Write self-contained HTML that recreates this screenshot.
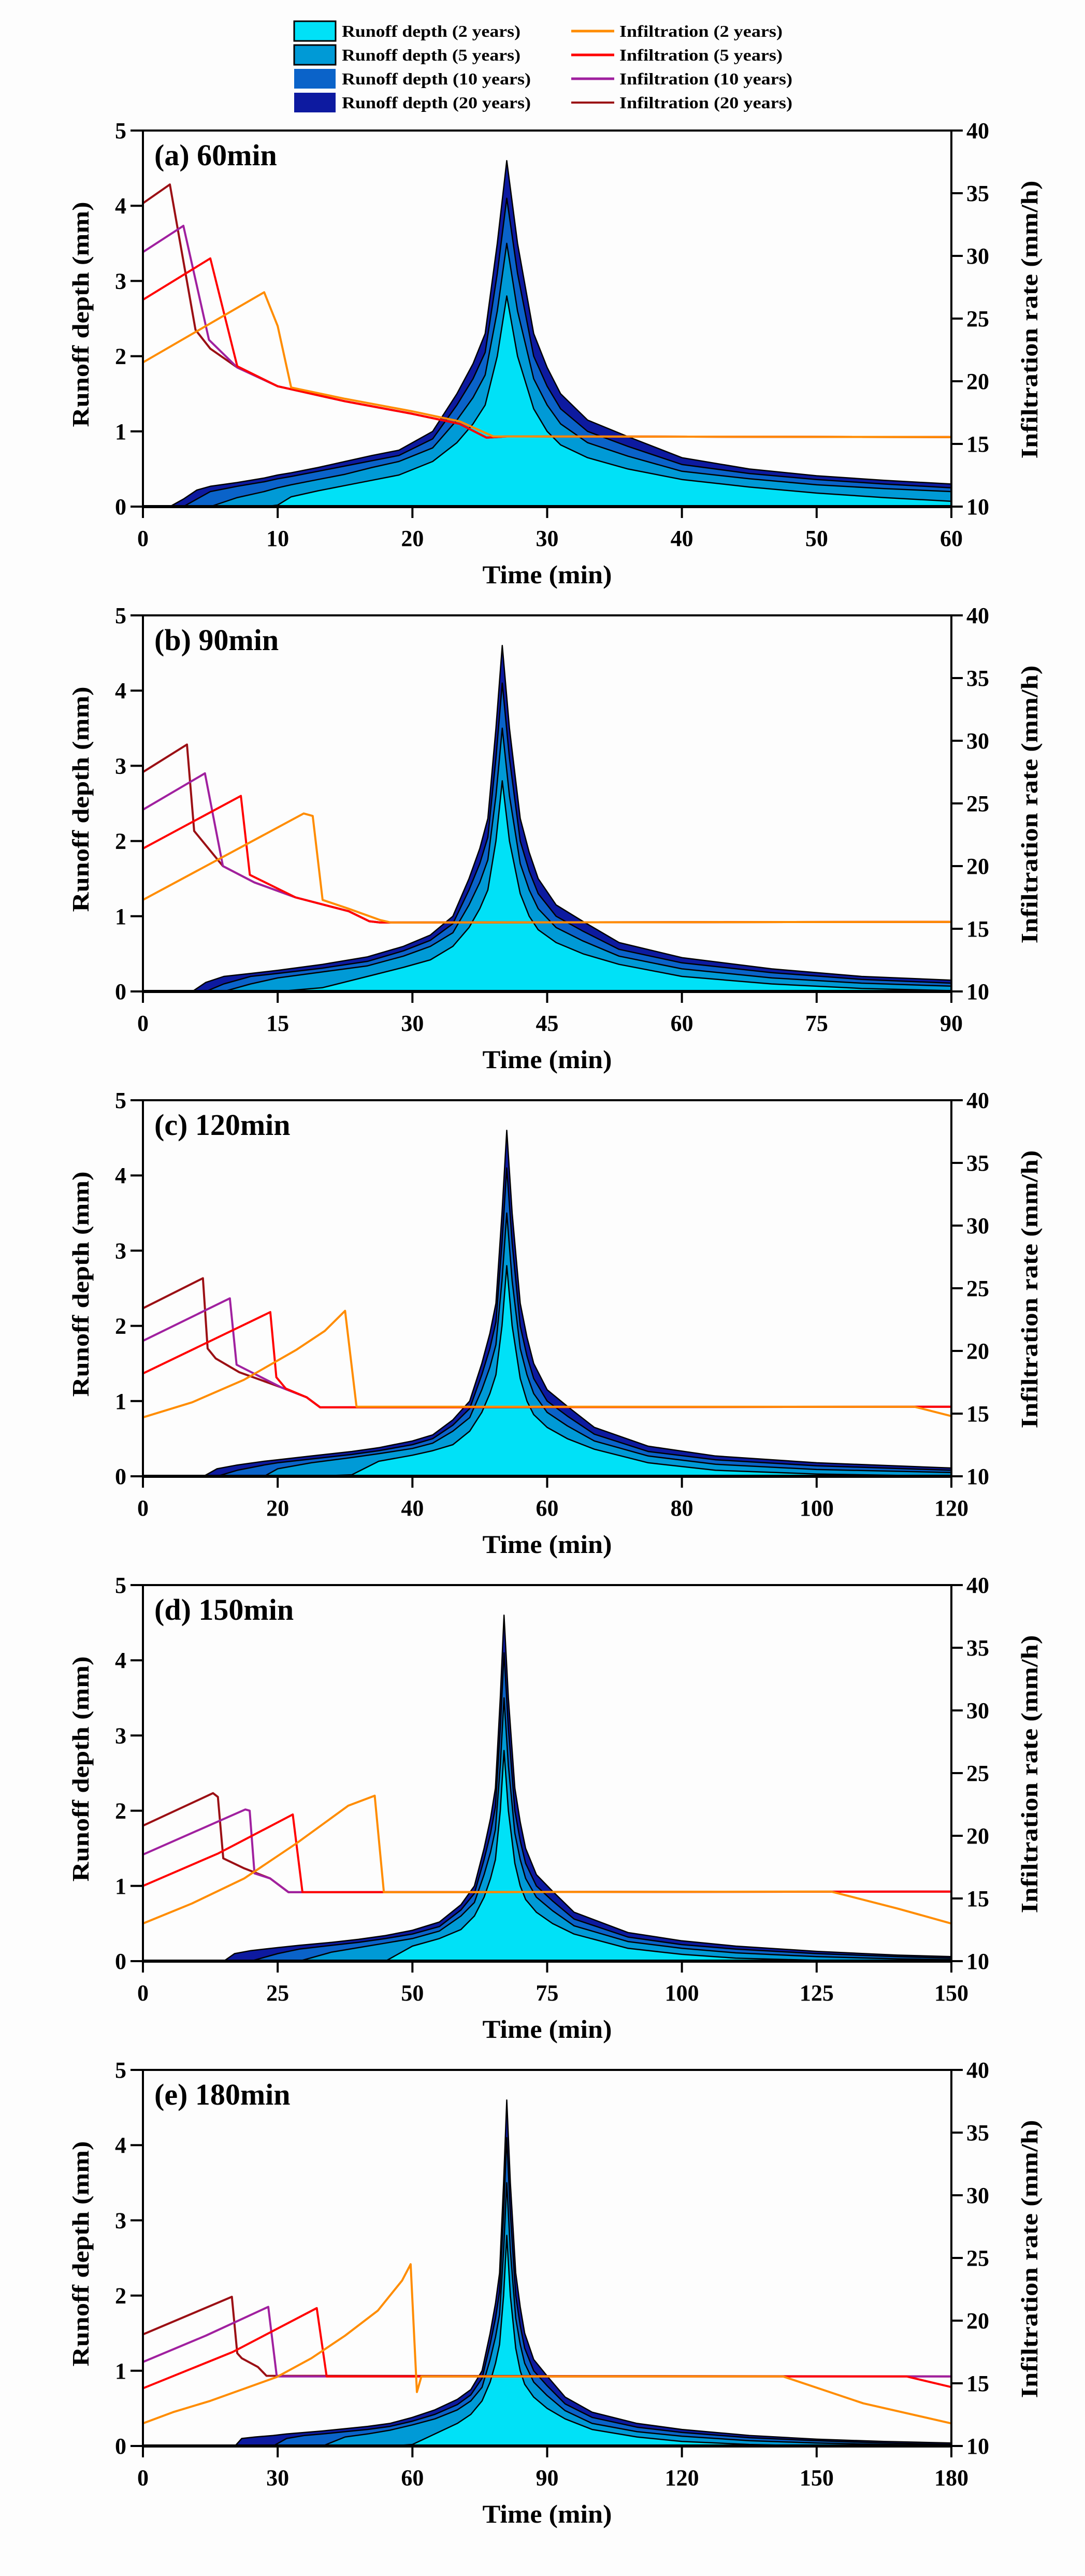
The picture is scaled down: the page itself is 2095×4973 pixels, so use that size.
<!DOCTYPE html>
<html><head><meta charset="utf-8">
<style>
html,body{margin:0;padding:0;background:#fdfdfd;}
svg{display:block;font-family:"Liberation Serif","Times New Roman",serif;}
</style></head>
<body>
<svg id="chart" width="2095" height="4973" viewBox="0 0 2095 4973" xmlns="http://www.w3.org/2000/svg">
<rect x="0" y="0" width="2095" height="4973" fill="#fdfdfd"/>
<g id="legend">
  <g>
    <rect x="568" y="41" width="80" height="38" fill="#00e1f7" stroke="#000" stroke-width="3"/>
    <text x="660" y="71" font-size="32" font-weight="bold" textLength="345" lengthAdjust="spacingAndGlyphs">Runoff depth (2 years)</text>
  </g>
  <g>
    <rect x="568" y="87" width="80" height="38" fill="#009ad6" stroke="#000" stroke-width="3"/>
    <text x="660" y="117" font-size="32" font-weight="bold" textLength="345" lengthAdjust="spacingAndGlyphs">Runoff depth (5 years)</text>
  </g>
  <g>
    <rect x="568" y="133" width="80" height="38" fill="#0a63c9"/>
    <text x="660" y="163" font-size="32" font-weight="bold" textLength="365" lengthAdjust="spacingAndGlyphs">Runoff depth (10 years)</text>
  </g>
  <g>
    <rect x="568" y="179" width="80" height="38" fill="#0d1aa0"/>
    <text x="660" y="209" font-size="32" font-weight="bold" textLength="365" lengthAdjust="spacingAndGlyphs">Runoff depth (20 years)</text>
  </g>
  <g>
    <line x1="1103" y1="60" x2="1186" y2="60" stroke="#ff8c00" stroke-width="5"/>
    <text x="1196" y="71" font-size="32" font-weight="bold" textLength="315" lengthAdjust="spacingAndGlyphs">Infiltration (2 years)</text>
  </g>
  <g>
    <line x1="1103" y1="106" x2="1186" y2="106" stroke="#ff0000" stroke-width="5"/>
    <text x="1196" y="117" font-size="32" font-weight="bold" textLength="315" lengthAdjust="spacingAndGlyphs">Infiltration (5 years)</text>
  </g>
  <g>
    <line x1="1103" y1="152" x2="1186" y2="152" stroke="#a0209f" stroke-width="5"/>
    <text x="1196" y="163" font-size="32" font-weight="bold" textLength="334" lengthAdjust="spacingAndGlyphs">Infiltration (10 years)</text>
  </g>
  <g>
    <line x1="1103" y1="198" x2="1186" y2="198" stroke="#9b0f14" stroke-width="4"/>
    <text x="1196" y="209" font-size="32" font-weight="bold" textLength="334" lengthAdjust="spacingAndGlyphs">Infiltration (20 years)</text>
  </g>
</g>
</svg>
<script>
// ---------- Panel (a) 60 min ----------
const aTime = [0,2,3,4,5,7,9,10,11,13,15,17,19,21.5,23.3,24.5,25.4,26.3,27,27.8,29,30,31,33,36,40,45,50,55,60];
const aRunoff20 = [0,0,.1,.22,.27,.32,.38,.42,.45,.52,.6,.68,.75,1.0,1.5,1.9,2.3,3.5,4.6,3.5,2.3,1.85,1.5,1.15,.93,.65,.5,.41,.35,.3];
const aRunoff10 = [0,0,0,.1,.2,.27,.33,.37,.4,.47,.54,.61,.68,.9,1.35,1.7,2.05,3.1,4.1,3.1,2.0,1.6,1.3,1.0,.8,.56,.44,.36,.3,.25];
const aRunoff5 = [0,0,0,0,0,.12,.2,.25,.29,.36,.43,.52,.6,.78,1.15,1.45,1.75,2.6,3.5,2.6,1.7,1.35,1.1,.85,.67,.47,.37,.29,.24,.2];
const aRunoff2 = [0,0,0,0,0,0,0,.02,.13,.21,.28,.35,.42,.6,.85,1.1,1.35,2.0,2.8,2.0,1.3,1.0,.82,.65,.5,.36,.26,.18,.12,.07];
const aInf20T = [0,2,3.9,5,7,10,15,20,23.5,25.5,27,60];
const aInf20V = [34.2,35.7,24.1,22.6,21.1,19.6,18.4,17.4,16.6,15.5,15.6,15.55];
const aInf10T = [0,3,4.9,7,10,15,20,23.5,25.5,27,60];
const aInf10V = [30.3,32.4,23.3,21.1,19.6,18.4,17.4,16.6,15.5,15.6,15.55];
const aInf5T = [0,5,7,10,15,20,23.5,25.5,27,60];
const aInf5V = [26.5,29.8,21.2,19.6,18.4,17.4,16.6,15.5,15.6,15.55];
const aInf2T = [0,9,10,11,15,20,23.5,26,60];
const aInf2V = [21.5,27.1,24.4,19.5,18.6,17.6,16.8,15.6,15.55];

// ---------- Panel (b) 90 min ----------
const bTime = [0,5.5,7,9,12,15,20,25,29,32,34.5,36.3,37.5,38.4,39.3,40,40.8,42,43,44,46,49,53,60,70,80,90];
const bRunoff20 = [0,0,.12,.2,.24,.28,.36,.46,.6,.75,1.0,1.5,1.9,2.3,3.5,4.6,3.5,2.3,1.85,1.5,1.15,.93,.65,.45,.3,.2,.15];
const bRunoff10 = [0,0,0,.1,.2,.24,.31,.4,.54,.68,.9,1.35,1.7,2.05,3.1,4.1,3.1,2.0,1.6,1.3,1.0,.8,.56,.38,.25,.16,.11];
const bRunoff5 = [0,0,0,0,.1,.18,.26,.34,.47,.6,.78,1.15,1.45,1.75,2.6,3.5,2.6,1.7,1.35,1.1,.85,.67,.47,.3,.18,.11,.07];
const bRunoff2 = [0,0,0,0,0,0,.05,.2,.32,.42,.6,.85,1.1,1.35,2.0,2.8,2.0,1.3,1.0,.82,.65,.5,.36,.2,.1,.04,.01];
const bInf20T = [0,4.9,5.7,8.9,12.4,17,22.9,25.2,26.4,90];
const bInf20V = [27.5,29.7,22.8,20.0,18.7,17.5,16.4,15.6,15.5,15.55];
const bInf10T = [0,6.9,8.9,12.4,17,22.9,25.2,26.4,90];
const bInf10V = [24.5,27.4,20.0,18.7,17.5,16.4,15.6,15.5,15.55];
const bInf5T = [0,10.9,11.9,17,22.9,25.2,26.4,90];
const bInf5V = [21.4,25.6,19.3,17.5,16.4,15.6,15.5,15.55];
const bInf2T = [0,17.9,18.9,20,22.9,26.4,27.6,90];
const bInf2V = [17.3,24.2,24.0,17.3,16.6,15.7,15.5,15.55];

// ---------- Panel (c) 120 min ----------
const cTime = [0,9,11,14,18,20,25,31,35,40,43,46,48.5,50.3,51.5,52.4,53.3,54,54.8,56,57,58,60,63,67,75,85,100,120];
const cRunoff20 = [0,0,.1,.15,.2,.22,.27,.33,.38,.47,.55,.75,1.0,1.5,1.9,2.3,3.5,4.6,3.5,2.3,1.85,1.5,1.15,.93,.65,.4,.27,.18,.11];
const cRunoff10 = [0,0,0,.08,.15,.18,.23,.29,.34,.42,.5,.68,.9,1.35,1.7,2.05,3.1,4.1,3.1,2.0,1.6,1.3,1.0,.8,.56,.33,.22,.14,.08];
const cRunoff5 = [0,0,0,0,0,.1,.18,.25,.3,.37,.44,.6,.78,1.15,1.45,1.75,2.6,3.5,2.6,1.7,1.35,1.1,.85,.67,.47,.27,.16,.09,.05];
const cRunoff2 = [0,0,0,0,0,0,0,.02,.2,.28,.34,.42,.6,.85,1.1,1.35,2.0,2.8,2.0,1.3,1.0,.82,.65,.5,.36,.18,.08,.03,0];
const cInf20T = [0,8.9,9.6,10.8,14.3,20.5,24.3,26.3,120];
const cInf20V = [23.4,25.8,20.2,19.4,18.3,17.1,16.3,15.5,15.55];
const cInf10T = [0,12.9,13.9,20.5,24.3,26.3,120];
const cInf10V = [20.8,24.2,18.9,17.1,16.3,15.5,15.55];
const cInf5T = [0,18.9,19.8,21.2,24.3,26.3,120];
const cInf5V = [18.2,23.1,17.9,17.0,16.3,15.5,15.55];
const cInf2T = [0,7.3,15,22.8,27,30,31.7,114.5,120];
const cInf2V = [14.7,15.9,17.7,20.1,21.6,23.2,15.55,15.55,14.8];

// ---------- Panel (d) 150 min ----------
const dTime = [0,15,17,20,25,29,35,40,45,50,55,59,61.5,63.3,64.5,65.4,66.3,67,67.8,69,70,71,73,76,80,90,100,110,125,140,150];
const dRunoff20 = [0,0,.1,.14,.18,.21,.25,.29,.34,.41,.52,.75,1.0,1.5,1.9,2.3,3.5,4.6,3.5,2.3,1.85,1.5,1.15,.93,.65,.38,.27,.2,.13,.08,.06];
const dRunoff10 = [0,0,0,0,.1,.16,.21,.25,.3,.36,.46,.68,.9,1.35,1.7,2.05,3.1,4.1,3.1,2.0,1.6,1.3,1.0,.8,.56,.32,.22,.16,.1,.06,.04];
const dRunoff5 = [0,0,0,0,0,0,.12,.18,.24,.3,.4,.6,.78,1.15,1.45,1.75,2.6,3.5,2.6,1.7,1.35,1.1,.85,.67,.47,.26,.17,.11,.06,.03,.02];
const dRunoff2 = [0,0,0,0,0,0,0,0,0,.2,.3,.42,.6,.85,1.1,1.35,2.0,2.8,2.0,1.3,1.0,.82,.65,.5,.36,.17,.09,.04,.01,0,0];
const dInf20T = [0,13,13.9,14.9,18.8,23.6,27,150];
const dInf20V = [20.8,23.4,23.1,18.2,17.4,16.6,15.5,15.55];
const dInf10T = [0,19,19.8,20.7,23.6,27,150];
const dInf10V = [18.5,22.1,22.0,17.0,16.6,15.5,15.55];
const dInf5T = [0,14,27.8,29.6,150];
const dInf5V = [16.0,18.6,21.7,15.5,15.55];
const dInf2T = [0,9.1,18.8,28.5,38.1,43,44.7,127.7,140,150];
const dInf2V = [13.0,14.6,16.6,19.4,22.4,23.2,15.5,15.55,14.2,13.0];

// ---------- Panel (e) 180 min ----------
const eTime = [0,20.5,22,25,29,32,36,40,45,50,55,60,65,70,73,75.5,77.3,78.5,79.4,80.3,81,81.8,83,84,85,87,90,94,100,110,120,135,150,165,180];
const eRunoff20 = [0,0,.1,.12,.14,.16,.18,.2,.23,.26,.3,.38,.48,.62,.75,1.0,1.5,1.9,2.3,3.5,4.6,3.5,2.3,1.85,1.5,1.15,.93,.65,.45,.3,.22,.14,.09,.06,.04];
const eRunoff10 = [0,0,0,0,0,.1,.14,.16,.19,.22,.26,.33,.42,.55,.68,.9,1.35,1.7,2.05,3.1,4.1,3.1,2.0,1.6,1.3,1.0,.8,.56,.38,.25,.18,.11,.07,.04,.02];
const eRunoff5 = [0,0,0,0,0,0,0,0,.12,.16,.21,.28,.36,.48,.6,.78,1.15,1.45,1.75,2.6,3.5,2.6,1.7,1.35,1.1,.85,.67,.47,.3,.19,.13,.07,.04,.02,.01];
const eRunoff2 = [0,0,0,0,0,0,0,0,0,0,0,.02,.16,.3,.42,.6,.85,1.1,1.35,2.0,2.8,2.0,1.3,1.0,.82,.65,.5,.36,.22,.12,.06,.02,0,0,0];
const eInf20T = [0,19.8,21,22,25.6,27.5,180];
const eInf20V = [18.9,21.9,17.4,17.0,16.3,15.6,15.55];
const eInf10T = [0,14,27.9,29.8,180];
const eInf10V = [16.7,18.8,21.1,15.55,15.55];
const eInf5T = [0,20,38.7,40.9,170,180];
const eInf5V = [14.6,17.5,21.0,15.55,15.55,14.7];
const eInf2T = [0,6.7,15,22,29.8,37.5,45,52.3,57.7,59.6,61,62,142.5,160.4,180];
const eInf2V = [11.8,12.7,13.6,14.5,15.5,17.0,18.8,20.8,23.2,24.5,14.3,15.55,15.55,13.4,11.8];

const xTicksA = [0,10,20,30,40,50,60];
const xTicksB = [0,15,30,45,60,75,90];
const xTicksC = [0,20,40,60,80,100,120];
const xTicksD = [0,25,50,75,100,125,150];
const xTicksE = [0,30,60,90,120,150,180];
const yLeftTicks = [0,1,2,3,4,5];
const yRightTicks = [10,15,20,25,30,35,40];
const panelLabels = ["(a) 60min","(b) 90min","(c) 120min","(d) 150min","(e) 180min"];

const panels = [
  {id:'a', tmax:60, time:aTime, r:[aRunoff20,aRunoff10,aRunoff5,aRunoff2], inf:[[aInf20T,aInf20V],[aInf10T,aInf10V],[aInf5T,aInf5V],[aInf2T,aInf2V]], ticks:xTicksA},
  {id:'b', tmax:90, time:bTime, r:[bRunoff20,bRunoff10,bRunoff5,bRunoff2], inf:[[bInf20T,bInf20V],[bInf10T,bInf10V],[bInf5T,bInf5V],[bInf2T,bInf2V]], ticks:xTicksB},
  {id:'c', tmax:120, time:cTime, r:[cRunoff20,cRunoff10,cRunoff5,cRunoff2], inf:[[cInf20T,cInf20V],[cInf10T,cInf10V],[cInf5T,cInf5V],[cInf2T,cInf2V]], ticks:xTicksC},
  {id:'d', tmax:150, time:dTime, r:[dRunoff20,dRunoff10,dRunoff5,dRunoff2], inf:[[dInf20T,dInf20V],[dInf10T,dInf10V],[dInf5T,dInf5V],[dInf2T,dInf2V]], ticks:xTicksD},
  {id:'e', tmax:180, time:eTime, r:[eRunoff20,eRunoff10,eRunoff5,eRunoff2], inf:[[eInf20T,eInf20V],[eInf10T,eInf10V],[eInf5T,eInf5V],[eInf2T,eInf2V]], ticks:xTicksE}
];

const NS = 'http://www.w3.org/2000/svg';
const svg = document.getElementById('chart');
const fillColors = ['#0d1aa0','#0a63c9','#009ad6','#00e1f7'];
const lineColors = ['#9b0f14','#a0209f','#ff0000','#ff8c00'];
const periods = ['20yr','10yr','5yr','2yr'];
const L = 276, R = 1837, H = 726;

function mk(tag, attrs, parent){
  const e = document.createElementNS(NS, tag);
  for (const k in attrs) e.setAttribute(k, attrs[k]);
  parent.appendChild(e);
  return e;
}

panels.forEach((p, i) => {
  const top = 252 + 936*i, bot = top + H;
  const xs = t => L + t / p.tmax * (R - L);
  const yl = d => bot - d / 5 * H;
  const yr = v => bot - (v - 10) / 30 * H;
  const g = mk('g', {}, svg);
  
  

  p.r.forEach((vals, k) => {
    let d = 'M' + xs(p.time[0]) + ',' + yl(0);
    p.time.forEach((t, j) => { d += ' L' + xs(t).toFixed(1) + ',' + yl(vals[j]).toFixed(1); });
    d += ' L' + xs(p.time[p.time.length-1]) + ',' + yl(0) + ' Z';
    const a = mk('path', {d: d, fill: fillColors[k], stroke: '#000', 'stroke-width': 2.5, 'stroke-linejoin': 'round'}, g);
    
    
  });

  p.inf.forEach((s, k) => {
    const pts = s[0].map((t, j) => xs(t).toFixed(1) + ',' + yr(s[1][j]).toFixed(1)).join(' ');
    const l = mk('polyline', {points: pts, fill: 'none', stroke: lineColors[k], 'stroke-width': 4, 'stroke-linejoin': 'round'}, g);
    
    
  });

  const fr = mk('rect', {x: L, y: top, width: R-L, height: H, fill: 'none', stroke: '#000', 'stroke-width': 4}, g);
  
  
  mk('line', {x1: L-2, y1: bot, x2: R+2, y2: bot, stroke: '#000', 'stroke-width': 6}, g);

  yLeftTicks.forEach(v => {
    mk('line', {x1: L-24, y1: yl(v), x2: L, y2: yl(v), stroke: '#000', 'stroke-width': 4}, g);
    const tx = mk('text', {x: 244, y: yl(v) + 15, 'font-size': 44, 'font-weight': 'bold', 'text-anchor': 'end'}, g);
    tx.textContent = v;
    
    
  });
  yRightTicks.forEach(v => {
    mk('line', {x1: R, y1: yr(v), x2: R+22, y2: yr(v), stroke: '#000', 'stroke-width': 4}, g);
    const tx = mk('text', {x: 1866, y: yr(v) + 15, 'font-size': 44, 'font-weight': 'bold'}, g);
    tx.textContent = v;
    
    
  });
  p.ticks.forEach(v => {
    mk('line', {x1: xs(v), y1: bot, x2: xs(v), y2: bot+22, stroke: '#000', 'stroke-width': 4}, g);
    const tx = mk('text', {x: xs(v), y: bot + 76, 'font-size': 44, 'font-weight': 'bold', 'text-anchor': 'middle'}, g);
    tx.textContent = v;
    
    
  });

  const xt = mk('text', {x: (L+R)/2, y: bot + 148, 'font-size': 50, 'font-weight': 'bold', 'text-anchor': 'middle', textLength: 250, lengthAdjust: 'spacingAndGlyphs'}, g);
  xt.textContent = 'Time (min)';
  
  

  const cy = top + H/2 - 8;
  const yt = mk('text', {x: 0, y: 0, 'font-size': 46, 'font-weight': 'bold', 'text-anchor': 'middle', textLength: 435, lengthAdjust: 'spacingAndGlyphs', transform: 'translate(171,' + cy + ') rotate(-90)'}, g);
  yt.textContent = 'Runoff depth (mm)';
  
  

  const rt = mk('text', {x: 0, y: 0, 'font-size': 46, 'font-weight': 'bold', 'text-anchor': 'middle', textLength: 537, lengthAdjust: 'spacingAndGlyphs', transform: 'translate(2003,' + (top + H/2 + 2) + ') rotate(-90)'}, g);
  rt.textContent = 'Infiltration rate (mm/h)';
  
  

  const pl = mk('text', {x: 298, y: top + 67, 'font-size': 58, 'font-weight': 'bold'}, g);
  pl.textContent = panelLabels[i];
  
  
});
</script>
</body></html>
